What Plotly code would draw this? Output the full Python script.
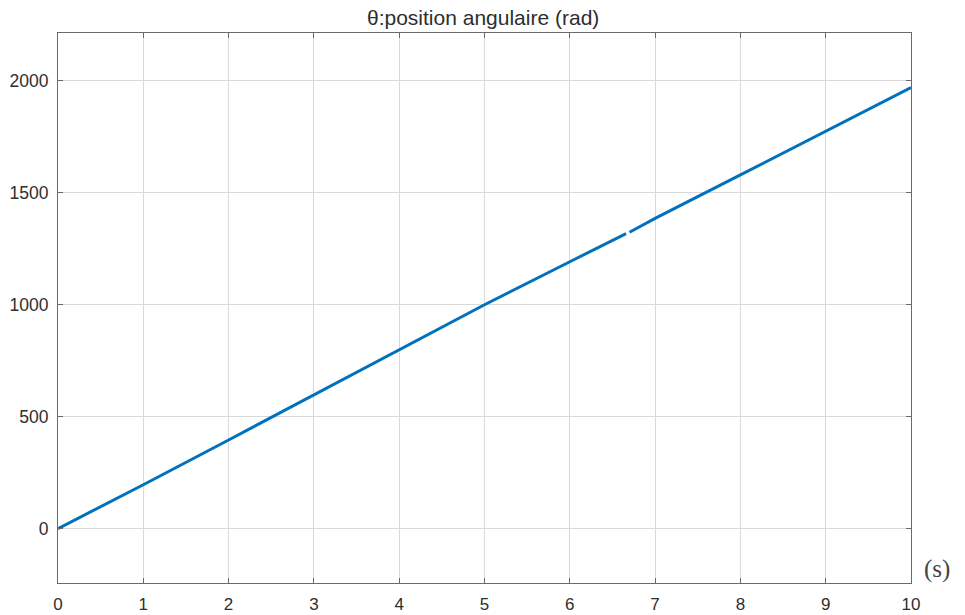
import plotly.graph_objects as go

# data
t = [0, 1, 2, 3, 4, 5, 6, 6.45, 6.66, 6.68, 6.7, 7, 8, 9, 10]
theta = [0, 196, 396, 597, 798, 1000, 1192, 1280, 1318, None, 1324, 1386, 1580, 1775, 1970]

x_ticks = list(range(0, 11))
y_ticks = [0, 500, 1000, 1500, 2000]

W, H = 965, 615
L, R, T, B = 57.7, 54.3, 33, 32
PW, PH = W - L - R, H - T - B

axis_col = "#6a6a6a"
grid_col = "#d9d9d9"
text_col = "#2e2e2e"
font = "Liberation Sans, Arial, Helvetica, sans-serif"

fig = go.Figure()
fig.add_trace(go.Scatter(
    x=t, y=theta, mode="lines",
    line=dict(color="#0072BD", width=3),
    connectgaps=False, showlegend=False, hoverinfo="x+y",
))

fig.update_layout(
    width=W, height=H,
    margin=dict(l=L, r=R, t=T, b=B, pad=0, autoexpand=False),
    paper_bgcolor="white", plot_bgcolor="white",
    font=dict(family=font, size=17, color=text_col),
    xaxis=dict(
        range=[0, 10], tickvals=x_ticks, ticktext=[str(v) for v in x_ticks],
        showgrid=True, gridcolor=grid_col, gridwidth=1,
        showline=True, linecolor=axis_col, linewidth=1, mirror="allticks",
        ticks="inside", ticklen=5, tickcolor=axis_col, zeroline=False,
        tickfont=dict(family=font, size=17, color=text_col),
        ticklabelstandoff=6, automargin=False,
    ),
    yaxis=dict(
        range=[-243, 2214], tickvals=y_ticks, ticktext=[str(v) for v in y_ticks],
        showgrid=True, gridcolor=grid_col, gridwidth=1,
        showline=True, linecolor=axis_col, linewidth=1, mirror="allticks",
        ticks="inside", ticklen=5, tickcolor=axis_col, zeroline=False,
        tickfont=dict(family=font, size=17.5, color=text_col),
        ticklabelstandoff=5, automargin=False,
    ),
    annotations=[
        dict(
            text="θ:position angulaire (rad)", x=(483 - L) / PW, y=(H - B - 17) / PH,
            xref="paper", yref="paper", xanchor="center", yanchor="middle",
            showarrow=False,
            font=dict(family=font, size=21, color=text_col),
        ),
        dict(
            text="(s)", x=(937 - L) / PW, y=(583 - 569) / PH, xref="paper", yref="paper",
            xanchor="center", yanchor="middle", showarrow=False,
            font=dict(family="Liberation Serif, DejaVu Serif, serif", size=25, color="#444444"),
        ),
    ],
)

fig.write_html("out.html")
